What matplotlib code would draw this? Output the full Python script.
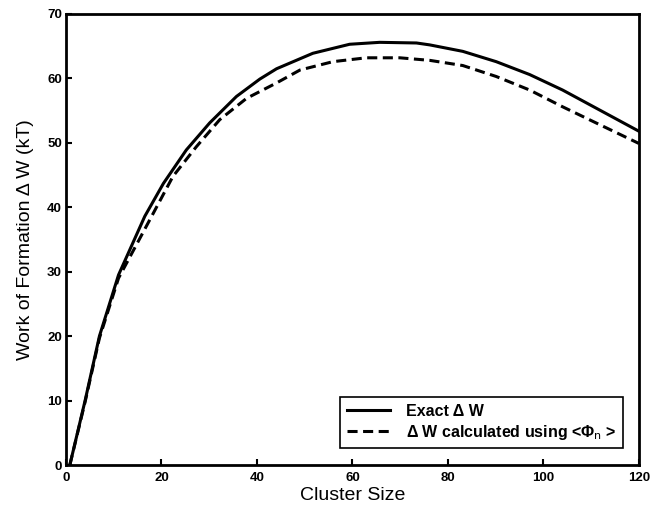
import matplotlib
matplotlib.use("Agg")
import matplotlib.pyplot as plt

exact_x = [0.8, 4.0, 7.0, 11.0, 16.5, 20.4, 25.2, 30.1, 35.7, 40.6, 44.1, 51.7, 59.4, 65.7, 73.4, 76.2, 83.1, 90.1, 97.1, 104.0, 111.0, 120]
exact_y = [0, 10.0, 20.0, 29.5, 38.6, 43.7, 48.9, 53.1, 57.2, 59.9, 61.5, 63.9, 65.3, 65.6, 65.5, 65.2, 64.2, 62.6, 60.6, 58.2, 55.4, 51.8]

approx_x = [0.8, 4.0, 7.0, 11.0, 18.3, 22.4, 27.3, 32.2, 37.8, 44.1, 49.0, 55.9, 62.9, 69.9, 76.2, 83.1, 90.1, 97.1, 104.0, 111.0, 120]
approx_y = [0, 9.8, 19.7, 29.0, 39.1, 44.8, 49.4, 53.6, 56.9, 59.3, 61.3, 62.6, 63.2, 63.2, 62.8, 62.0, 60.3, 58.2, 55.6, 53.1, 49.9]

xticks = [0, 20, 40, 60, 80, 100, 120]
yticks = [0, 10, 20, 30, 40, 50, 60, 70]

plt.rcParams['font.family'] = ['Liberation Sans', 'DejaVu Sans']

fig = plt.figure(figsize=(6.62, 5.14), dpi=100)
ax = fig.add_axes([0.0997, 0.0953, 0.8655, 0.8775])

ax.plot(exact_x, exact_y, color='black', lw=2.2, label='Exact Δ W')
ax.plot(approx_x, approx_y, color='black', lw=2.2, linestyle=(0, (3.3, 1.8)),
        label=r'Δ W calculated using <Φ$_{\rm n}$ >')

ax.set_xlim(0, 120)
ax.set_ylim(0, 70)
ax.set_xticks(xticks)
ax.set_yticks(yticks)
ax.set_xticklabels([str(t) for t in xticks], fontweight='bold', fontsize=9.5)
ax.set_yticklabels([str(t) for t in yticks], fontweight='bold', fontsize=9.5)
ax.tick_params(direction='in', length=4, width=1.5)
ax.tick_params(axis='x', pad=5)
ax.tick_params(axis='y', pad=3)
for s in ax.spines.values():
    s.set_linewidth(2)

ax.set_xlabel('Cluster Size', fontsize=14, labelpad=2)
ax.set_ylabel('Work of Formation Δ W (kT)', fontsize=14, labelpad=9)

leg = ax.legend(loc='lower right', bbox_to_anchor=(0.972, 0.0377),
                prop={'weight': 'bold', 'size': 11.5},
                frameon=True, fancybox=False, edgecolor='black', framealpha=1,
                handlelength=2.7, borderpad=0.4, labelspacing=0.25, handletextpad=1.0,
                borderaxespad=0.0)
leg.get_frame().set_linewidth(1.2)

fig.savefig('out.png', dpi=100)
